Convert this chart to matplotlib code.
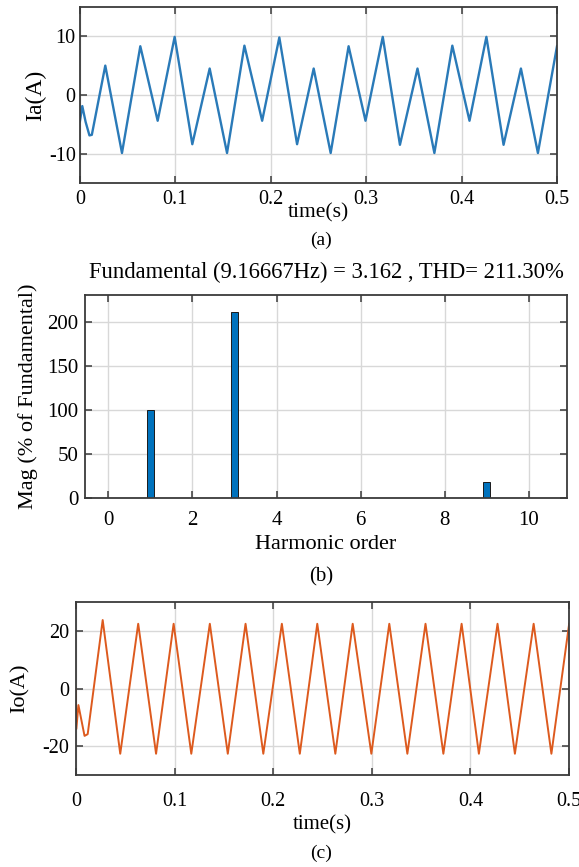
import matplotlib.pyplot as plt

plt.rcParams['font.family'] = ['Liberation Serif', 'DejaVu Serif']
plt.rcParams['axes.unicode_minus'] = False

# (a) phase current Ia, peak/trough vertices
ia_t = [0.0, 0.0025, 0.0060, 0.0100, 0.0125, 0.0266, 0.0441, 0.0633, 0.0815,
        0.0993, 0.1178, 0.1360, 0.1542, 0.1724, 0.1910, 0.2090, 0.2276, 0.2450,
        0.2628, 0.2816, 0.2993, 0.3174, 0.3354, 0.3538, 0.3715, 0.3903, 0.4083,
        0.4260, 0.4440, 0.4622, 0.4800, 0.5000]
ia_v = [-4.5, -1.9, -4.6, -6.9, -6.8, 5.0, -9.9, 8.3, -4.4,
        9.9, -8.4, 4.5, -9.9, 8.4, -4.4, 9.8, -8.4, 4.5,
        -9.9, 8.3, -4.4, 9.9, -8.5, 4.5, -9.9, 8.4, -4.4,
        9.9, -8.5, 4.5, -9.9, 8.3]

# (b) FFT of Ia
harm_order = [1, 3, 9]
harm_mag = [100, 210.5, 18]
fft_title = "Fundamental (9.16667Hz) = 3.162 , THD= 211.30%"

# (c) output current Io
io_t = [0.0, 0.0005, 0.0026, 0.0088, 0.0120, 0.0272, 0.0450, 0.0632, 0.0813,
        0.0991, 0.1170, 0.1358, 0.1540, 0.1720, 0.1900, 0.2088, 0.2270, 0.2447,
        0.2630, 0.2806, 0.2995, 0.3177, 0.3360, 0.3544, 0.3725, 0.3910, 0.4085,
        0.4274, 0.4450, 0.4640, 0.4820, 0.5000]
io_v = [0.0, -14.0, -5.7, -16.4, -15.8, 23.8, -22.6, 22.5, -22.6,
        22.5, -22.6, 22.5, -22.6, 22.5, -22.6, 22.5, -22.6, 22.5,
        -22.6, 22.5, -22.6, 22.5, -22.6, 22.5, -22.6, 22.5, -22.6,
        22.5, -22.6, 22.5, -22.6, 22.5]

time_ticks = [0, 0.1, 0.2, 0.3, 0.4, 0.5]
time_labels = ['0', '0.1', '0.2', '0.3', '0.4', '0.5']


def matlab_style(ax, fs):
    for s in ax.spines.values():
        s.set_color('#3a3a3a')
        s.set_linewidth(1.3)
    ax.tick_params(direction='in', top=True, right=True, length=5, width=1.1,
                   color='#3a3a3a', labelsize=fs)
    ax.grid(True, color='#d8d8d8', linewidth=1.0)
    ax.set_axisbelow(True)


def place_labels(ax, xl, yl):
    ax.xaxis.label.set_va('center')
    ax.yaxis.label.set_va('center')
    ax.xaxis.set_label_coords(0.5, xl)
    ax.yaxis.set_label_coords(yl, 0.5)


fig = plt.figure(figsize=(5.79, 8.67), dpi=100)

# ---- (a)
ax1 = fig.add_axes([0.138, 0.789, 0.824, 0.203])
ax1.plot(ia_t, ia_v, color='#2a7ab8', linewidth=1.7)
ax1.set_xlim(0, 0.5)
ax1.set_ylim(-15, 15)
ax1.set_yticks([-10, 0, 10])
ax1.set_xticks(time_ticks)
ax1.set_xticklabels(time_labels)
matlab_style(ax1, 14.5)
ax1.tick_params(axis='x', pad=5)
ax1.tick_params(axis='y', pad=3)
ax1.set_xlabel('time(s)', fontsize=15.5)
ax1.set_ylabel('Ia(A)', fontsize=17)
place_labels(ax1, -0.17, -0.092)
fig.text(0.555, 0.723, '(a)', ha='center', va='center', fontsize=14)

# ---- (b)
ax2 = fig.add_axes([0.147, 0.4256, 0.832, 0.234])
ax2.bar(harm_order, harm_mag, width=0.17, color='#0072bd',
        edgecolor='#1a1a1a', linewidth=0.7)
ax2.set_xlim(-0.55, 10.9)
ax2.set_ylim(0, 230)
ax2.set_xticks(range(0, 11, 2))
ax2.set_yticks(range(0, 201, 50))
matlab_style(ax2, 15)
ax2.tick_params(axis='x', pad=9)
ax2.tick_params(axis='y', pad=5)
ax2.set_title(fft_title, fontsize=16.3, pad=12)
ax2.set_xlabel('Harmonic order', fontsize=16)
ax2.set_ylabel('Mag (% of Fundamental)', fontsize=16)
place_labels(ax2, -0.23, -0.119)
fig.text(0.555, 0.3345, '(b)', ha='center', va='center', fontsize=15)

# ---- (c)
ax3 = fig.add_axes([0.131, 0.106, 0.852, 0.1995])
ax3.plot(io_t, io_v, color='#dd5a1e', linewidth=1.4)
ax3.set_xlim(0, 0.5)
ax3.set_ylim(-30, 30)
ax3.set_yticks([-20, 0, 20])
ax3.set_xticks(time_ticks)
ax3.set_xticklabels(time_labels)
matlab_style(ax3, 14.5)
ax3.tick_params(axis='x', pad=12)
ax3.tick_params(axis='y', pad=5)
ax3.set_xlabel('time(s)', fontsize=15)
ax3.set_ylabel('Io(A)', fontsize=16)
place_labels(ax3, -0.29, -0.113)
fig.text(0.555, 0.016, '(c)', ha='center', va='center', fontsize=14)

fig.savefig('out.png', dpi=100)
